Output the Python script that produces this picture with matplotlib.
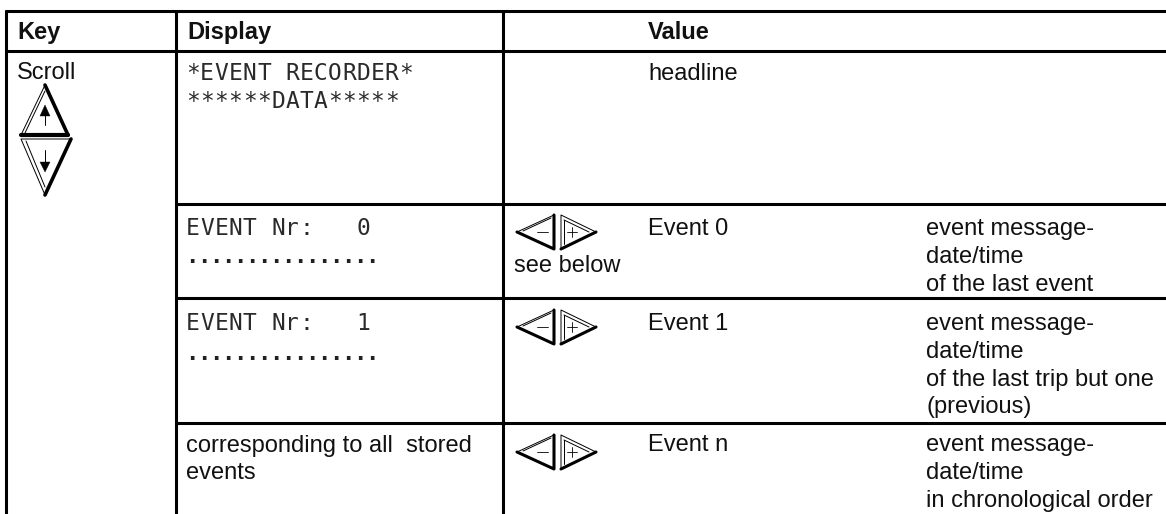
#!/usr/bin/env python3

import matplotlib
matplotlib.use('Agg')
import matplotlib.pyplot as plt
from matplotlib.patches import Polygon

plt.rcParams['font.family'] = ['Liberation Sans', 'DejaVu Sans']

headers = ['Key', 'Display', 'Value']
key_label = 'Scroll'
lcd_rows = [('*EVENT RECORDER*', '******DATA*****'),
            ('EVENT Nr:   0', '................'),
            ('EVENT Nr:   1', '................')]
value_rows = ['headline', 'Event 0', 'Event 1', 'Event n']
note_rows = [['event message-', 'date/time', 'of the last event'],
             ['event message-', 'date/time', 'of the last trip but one', '(previous)'],
             ['event message-', 'date/time', 'in chronological order']]
all_events = ['corresponding to all  stored', 'events']
see_below = 'see below'

W, H = 1166, 514
LW = 2.2
FS = 17

fig = plt.figure(figsize=(W / 100, H / 100), dpi=100)
ax = fig.add_axes([0, 0, 1, 1])
ax.set_xlim(0, W)
ax.set_ylim(H, 0)
ax.axis('off')


def hline(y, x0, x1=W):
    ax.plot([x0, x1], [y, y], color='k', lw=LW, solid_capstyle='butt')


def vline(x, y0=10, y1=H):
    ax.plot([x, x], [y0, y1], color='k', lw=LW, solid_capstyle='butt')


def label(x, y, s, **kw):
    ax.text(x, y, s, fontsize=FS, va='baseline', ha='left', color='#111111', **kw)


def lcd(x, y, s):
    # fixed pitch, one character at a time like the display matrix
    for i, c in enumerate(s):
        if c == ' ':
            continue
        ax.text(x + i * 14.2, y, c, family='DejaVu Sans Mono', fontsize=16.5,
                ha='left', va='baseline', color='#2a2a2a')


def lcd_dots(x, y, s):
    for i, c in enumerate(s):
        ax.text(x + i * 12, y, c, family='DejaVu Sans Mono', fontsize=16,
                fontweight='bold', ha='center', va='baseline', color='#222222')


def poly(pts, lw, fill='none'):
    ax.add_patch(Polygon(pts, closed=True, fc=fill, ec='k', lw=lw, joinstyle='round'))


def line(pts, lw):
    ax.plot([p[0] for p in pts], [p[1] for p in pts], color='k', lw=lw,
            solid_capstyle='round', solid_joinstyle='round')


def up_down_keys():
    # up key
    poly([(45, 85), (68, 135), (21, 135)], 0.7)
    line([(45, 91), (25, 133)], 0.7)
    line([(45, 85), (68, 135)], 2.6)
    line([(21, 135), (68, 135)], 3.0)
    line([(45, 112), (45, 125)], 0.7)
    poly([(45, 105), (50, 116), (40, 116)], 0.3, 'k')
    # down key
    poly([(21, 139), (71, 139), (45, 195)], 0.7)
    line([(26, 141), (45, 187)], 0.7)
    line([(71, 139), (45, 195)], 2.6)
    line([(45, 150), (45, 164)], 0.7)
    poly([(45, 172), (50, 162), (40, 162)], 0.3, 'k')


def minus_plus_keys(cy):
    # minus key
    poly([(517, cy), (554, cy - 17), (554, cy + 17)], 0.7)
    line([(523, cy - 1), (551, cy - 14)], 0.7)
    line([(517, cy), (554, cy + 17), (554, cy - 17)], 2.2)
    line([(537, cy), (548, cy)], 0.6)
    # plus key
    poly([(561, cy - 17), (596, cy), (561, cy + 17)], 0.7)
    line([(564, cy - 12), (564, cy + 12)], 0.7)
    line([(564, cy - 12), (589, cy)], 0.7)
    line([(596, cy), (561, cy + 17)], 2.2)
    line([(567, cy), (577, cy)], 0.6)
    line([(572, cy - 5), (572, cy + 5)], 0.6)


# table rules, the key column is one open cell below the header
hline(11, 5)
hline(50.5, 5)
hline(203.5, 176)
hline(298, 176)
hline(423, 176)
vline(6)
vline(176)
vline(503)

# header
label(17, 39, headers[0], fontweight='bold')
label(187, 39, headers[1], fontweight='bold')
label(648, 39, headers[2], fontweight='bold')

label(17, 79, key_label)
up_down_keys()

# display column
lcd(186, 80, lcd_rows[0][0])
lcd(186, 108, lcd_rows[0][1])
lcd(186, 235, lcd_rows[1][0])
lcd_dots(192, 263, lcd_rows[1][1])
lcd(186, 330, lcd_rows[2][0])
lcd_dots(192, 360, lcd_rows[2][1])
label(186, 452, all_events[0])
label(186, 479, all_events[1])

# keys
for cy in [232, 327, 452]:
    minus_plus_keys(cy)
label(514, 272, see_below)

# value column
for s, y in zip(value_rows, [80, 235, 330, 451]):
    label(648, y, s)

# notes on the right
note_y = [235, 330, 451]
for rows, y0 in zip(note_rows, note_y):
    for i, s in enumerate(rows):
        label(926, y0 + i * 27.8, s)

plt.savefig('out.png', dpi=100)
